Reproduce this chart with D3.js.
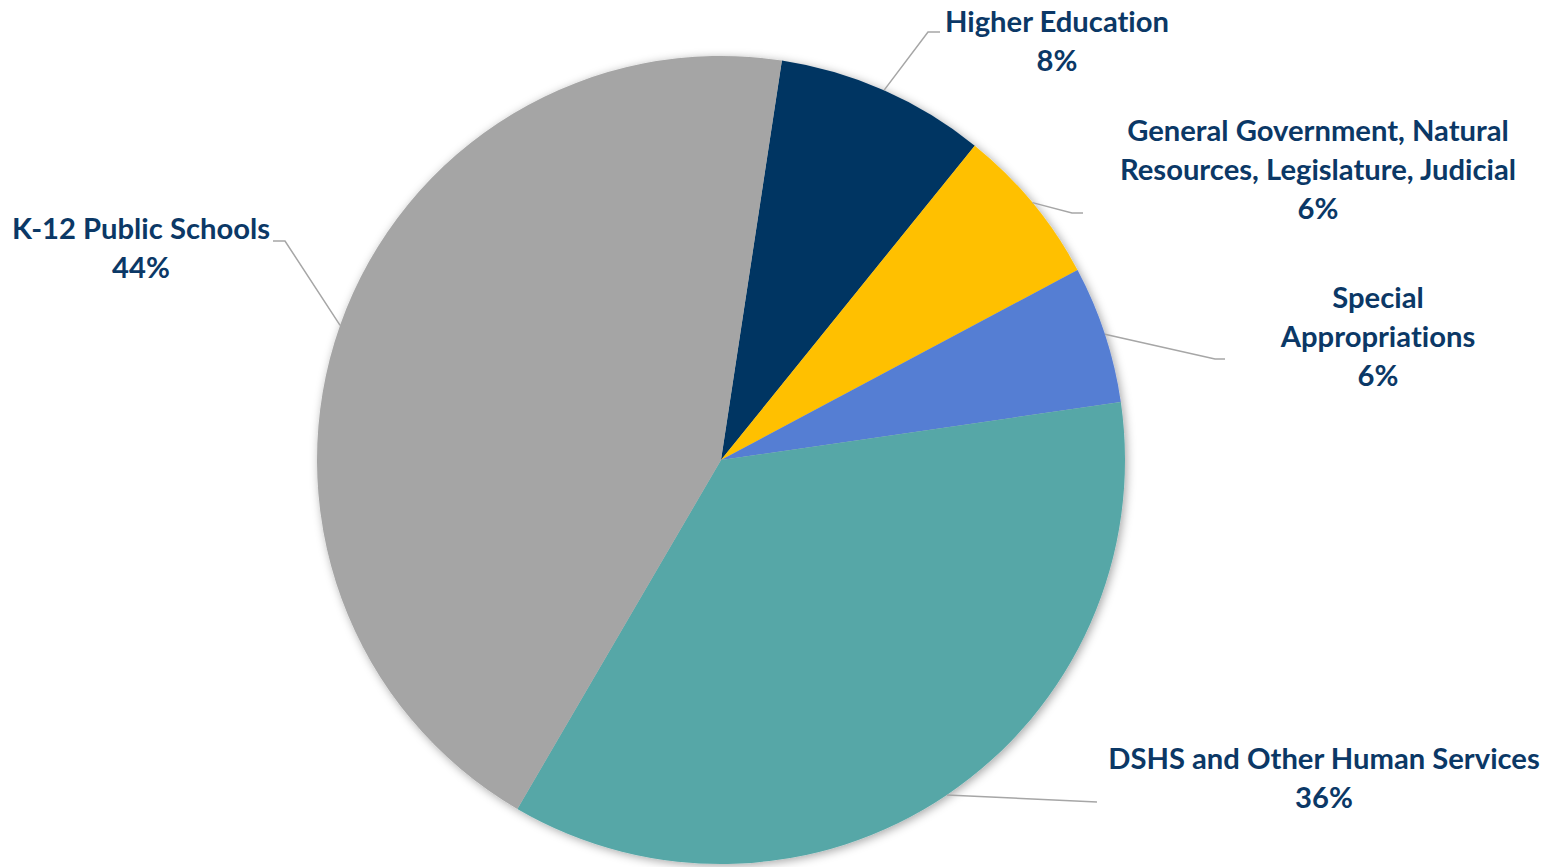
<!DOCTYPE html>
<html>
<head>
<meta charset="utf-8">
<script src="https://cdn.jsdelivr.net/npm/d3@7/dist/d3.min.js"></script>
<style>
  html, body { margin: 0; padding: 0; background: #ffffff; }
  svg { display: block; }
  .lbl { font-family: Lato, "Open Sans", sans-serif; font-weight: 700; fill: #0B3866;
         font-variant-ligatures: none; font-feature-settings: "liga" 0, "clig" 0; }
</style>
</head>
<body>
<svg id="chart" width="1556" height="867"></svg>
<script>
// ---- data ----
const categories = [
  "Higher Education",
  "General Government, Natural Resources, Legislature, Judicial",
  "Special Appropriations",
  "DSHS and Other Human Services",
  "K-12 Public Schools"
];
const values = [8.4, 6.4, 5.5, 35.7, 44.0];
const labelLines = [
  ["Higher Education"],
  ["General Government, Natural", "Resources, Legislature, Judicial"],
  ["Special", "Appropriations"],
  ["DSHS and Other Human Services"],
  ["K-12 Public Schools"]
];
const colors = ["#003662", "#FFC000", "#557ED3", "#57A7A7", "#A5A5A5"];

// ---- layout (positions only) ----
const W = 1556, H = 867;
const cx = 721, cy = 460, R = 404;
const startDeg = 8.67;
const fontSize = 29.2, lineH = 39;
// label block: center x, first baseline y, leader elbow and end
const labelLayout = [
  { x: 1057, y: 32,  elbow: [928, 32],   end: [940, 32] },
  { x: 1318, y: 141, elbow: [1072, 213], end: [1083, 213] },
  { x: 1378, y: 308, elbow: [1215, 359], end: [1225, 359] },
  { x: 1324, y: 769, elbow: [1097, 802], end: [1097, 802] },
  { x: 141,  y: 239, elbow: [285, 241],  end: [273, 241] }
];

const svg = d3.select("#chart");
const defs = svg.append("defs");
const f = defs.append("filter").attr("id", "shadow")
  .attr("x", "-10%").attr("y", "-10%").attr("width", "120%").attr("height", "120%");
f.append("feDropShadow").attr("dx", 2).attr("dy", 2).attr("stdDeviation", 5)
  .attr("flood-color", "#000").attr("flood-opacity", 0.35);

const total = d3.sum(values);
const pie = d3.pie().sort(null).value(d => d)
  .startAngle(startDeg * Math.PI / 180)
  .endAngle(startDeg * Math.PI / 180 + 2 * Math.PI);
const arcs = pie(values);
const arc = d3.arc().innerRadius(0).outerRadius(R);

const g = svg.append("g").attr("transform", `translate(${cx},${cy})`);
g.append("g").attr("filter", "url(#shadow)")
  .selectAll("path").data(arcs).join("path")
  .attr("d", arc)
  .attr("fill", (d, i) => colors[i]);

// leader lines
const pointOn = (d) => {
  const a = (d.startAngle + d.endAngle) / 2;
  return [cx + R * Math.sin(a), cy - R * Math.cos(a)];
};
svg.append("g").selectAll("polyline").data(arcs).join("polyline")
  .attr("points", (d, i) => {
    const p = pointOn(d), L = labelLayout[i];
    return [p, L.elbow, L.end].map(q => q.join(",")).join(" ");
  })
  .attr("fill", "none")
  .attr("stroke", "#A6A6A6")
  .attr("stroke-width", 1.5);

// labels
const fmt = v => Math.round(v / total * 100) + "%";
const lg = svg.append("g");
arcs.forEach((d, i) => {
  const L = labelLayout[i];
  const lines = labelLines[i].concat([fmt(d.data)]);
  const t = lg.append("text").attr("class", "lbl")
    .attr("text-anchor", "middle")
    .attr("font-size", fontSize);
  lines.forEach((s, k) => {
    t.append("tspan").attr("x", L.x).attr("y", L.y + k * lineH).text(s);
  });
});
</script>
</body>
</html>
